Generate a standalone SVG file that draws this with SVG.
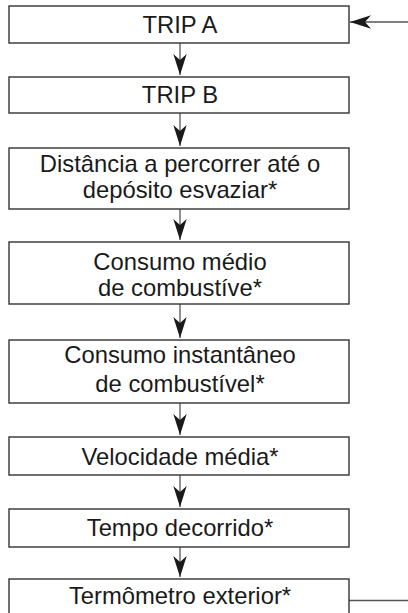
<svg xmlns="http://www.w3.org/2000/svg" width="408" height="613" viewBox="0 0 408 613">
<defs>
<style>
.box{fill:#fff;stroke:#333;stroke-width:1.4}
.t{font-family:"Liberation Sans",Arial,sans-serif;font-size:23.8px;fill:#1a1a1a;text-anchor:middle}
.ln{stroke:#555;stroke-width:1.3;fill:none}
.ah{fill:#1a1a1a}
</style>
<marker id="arr" viewBox="0 0 21 14" refX="21" refY="7" markerWidth="21" markerHeight="14" markerUnits="userSpaceOnUse" orient="auto">
<path d="M21,7 L0,0.3 L6,7 L0,13.7 Z" class="ah"/>
</marker>
</defs>
<rect width="408" height="613" fill="#fff"/>
<g id="connectors">
<line class="ln" x1="180" y1="43" x2="180" y2="75" marker-end="url(#arr)"/>
<line class="ln" x1="180" y1="113" x2="180" y2="146" marker-end="url(#arr)"/>
<line class="ln" x1="180" y1="209" x2="180" y2="240" marker-end="url(#arr)"/>
<line class="ln" x1="180" y1="304" x2="180" y2="338" marker-end="url(#arr)"/>
<line class="ln" x1="180" y1="403" x2="180" y2="435" marker-end="url(#arr)"/>
<line class="ln" x1="180" y1="475" x2="180" y2="507" marker-end="url(#arr)"/>
<line class="ln" x1="180" y1="547" x2="180" y2="577" marker-end="url(#arr)"/>
<line class="ln" x1="408" y1="22" x2="350" y2="22" marker-end="url(#arr)"/>
<line class="ln" x1="349" y1="600.5" x2="408" y2="600.5"/>
</g>
<g id="tripA"><rect class="box" x="9" y="6" width="340" height="37"/><text class="t" x="180" y="32.5">TRIP A</text></g>
<g id="tripB"><rect class="box" x="9" y="77" width="340" height="36"/><text class="t" x="180" y="102.5">TRIP B</text></g>
<g id="distancia"><rect class="box" x="9" y="148" width="340" height="61"/><text class="t" x="180" y="172">Distância a percorrer até o</text><text class="t" x="180" y="198">depósito esvaziar*</text></g>
<g id="consumoMedio"><rect class="box" x="9" y="242" width="340" height="62"/><text class="t" x="180" y="270">Consumo médio</text><text class="t" x="180" y="296">de combustíve*</text></g>
<g id="consumoInst"><rect class="box" x="9" y="340" width="340" height="63"/><text class="t" x="180" y="363">Consumo instantâneo</text><text class="t" x="180" y="392">de combustível*</text></g>
<g id="velocidade"><rect class="box" x="9" y="437" width="340" height="38"/><text class="t" x="180" y="464.5">Velocidade média*</text></g>
<g id="tempo"><rect class="box" x="9" y="509" width="340" height="38"/><text class="t" x="180" y="535.5">Tempo decorrido*</text></g>
<g id="termometro"><rect class="box" x="9" y="579" width="340" height="38"/><text class="t" x="180" y="604">Termômetro exterior*</text></g>
</svg>
